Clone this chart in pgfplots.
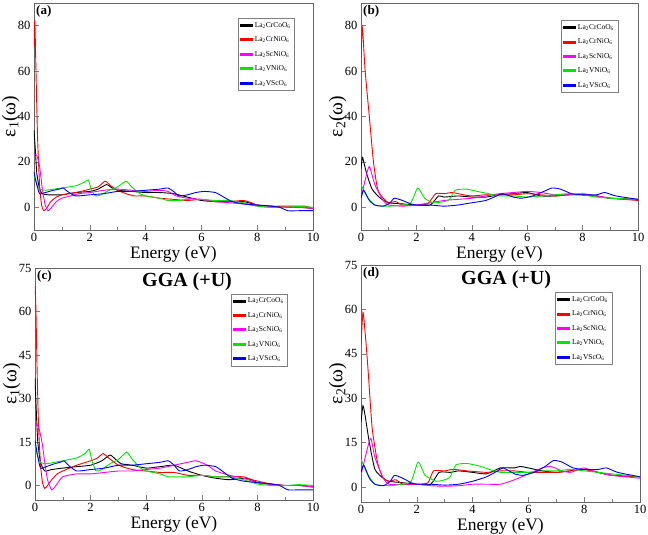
\documentclass[border=0pt]{standalone}
\usepackage{fontspec}
\setmainfont{Liberation Serif}
\usepackage{pgfplots}
\pgfplotsset{compat=1.18}
\definecolor{cgreen}{RGB}{0,230,0}
\definecolor{cmag}{RGB}{255,0,255}
\pgfplotsset{
  panel/.style={
    scale only axis,
    xmin=0, xmax=10,
    xtick={0,2,...,10}, minor xtick={1,3,...,9},
    xtick pos=left, ytick pos=left,
    tick align=inside,
    axis line style={gray!80!black, line width=0.6pt},
    major tick style={gray, line width=0.6pt},
    minor tick style={gray, line width=0.6pt},
    major tick length=5pt, minor tick length=3pt,
    /pgf/number format/assume math mode=true,
    ticklabel style={font=\fontsize{12.5}{12.5}\selectfont},
    xlabel={Energy (eV)},
    xlabel style={font=\fontsize{17.5}{17.5}\selectfont, yshift=2pt},
    ylabel style={font=\fontsize{19.5}{19.5}\selectfont, yshift=-5pt, inner sep=0pt},
    every axis plot/.append style={line width=0.9pt, smooth, tension=0.35},
    legend cell align=left,
    legend style={font=\fontsize{7.5}{8}\selectfont, draw=gray, line width=0.5pt,
      inner sep=2pt, row sep=4pt},
    legend image code/.code={\fill[#1] (0pt,-1pt) rectangle (12pt,1pt);},
  },
}
\newcommand{\leg}{\legend{La\textsubscript{2}CrCoO\textsubscript{6},La\textsubscript{2}CrNiO\textsubscript{6},La\textsubscript{2}ScNiO\textsubscript{6},La\textsubscript{2}VNiO\textsubscript{6},La\textsubscript{2}VScO\textsubscript{6}}}
\begin{document}
\begin{tikzpicture}[x=1pt,y=1pt]
\useasboundingbox (0,0) rectangle (648,535);
% ---------------- (a)
\begin{axis}[panel, at={(34pt,305pt)}, anchor=south west, width=279pt, height=227pt,
  ymin=-10, ymax=90, ytick={0,20,40,60,80},
  ylabel={ε\textsubscript{1}(ω)},
  legend style={at={(0.935,0.934)}, anchor=north east}]
\addplot[black] coordinates {(0,34) (0.05,25) (0.1,15) (0.2,8) (0.3,6) (0.5,5.5) (1,5.5) (1.5,6.5) (2,7) (2.3,8) (2.6,10) (2.8,8.5) (3,7.5) (3.5,7) (4,6.5) (4.5,6.5) (5,6) (5.5,4.5) (6,3) (6.5,2.5) (7,2.5) (7.5,2.5) (7.7,2) (8,1) (8.5,0.5) (9,0) (9.5,0) (10,-0.5)};
\addplot[red] coordinates {(0,70) (0.03,82) (0.08,55) (0.13,30) (0.2,10) (0.27,1) (0.35,-1.5) (0.45,-0.5) (0.6,2.5) (0.8,4.5) (1,5.5) (1.5,6.5) (2,8) (2.3,9) (2.55,11.5) (2.75,9.5) (3,7.5) (3.3,6) (3.6,5) (4,5) (4.5,4) (5,3.5) (5.5,3) (6,3.5) (6.5,2.5) (7,2.5) (7.5,3) (7.8,2) (8,1) (8.5,0.5) (9,0.5) (9.7,0.5) (10,-0.5)};
\addplot[cmag] coordinates {(0,23) (0.1,23) (0.2,18) (0.3,8) (0.4,1) (0.5,-1.5) (0.6,-0.5) (0.8,2.5) (1,4) (1.3,5) (1.6,6) (2,6.5) (2.5,7.5) (3,8) (3.5,7.5) (4,7) (4.5,7.5) (4.8,7) (5.1,5) (5.5,4) (6,3.5) (6.5,2.5) (7,2) (7.5,1.5) (8,0.5) (8.5,0) (9,0) (9.5,0) (10,-0.5)};
\addplot[cgreen] coordinates {(0,14) (0.1,10) (0.2,8) (0.4,7.5) (0.7,8) (1,8.5) (1.5,9.5) (1.8,11) (1.95,12) (2.05,8) (2.2,5) (2.4,5.5) (2.7,7.5) (3,9) (3.3,11.5) (3.5,9) (3.8,6) (4,5) (4.5,4) (4.8,3) (5.2,3) (5.5,3.5) (6,3.5) (6.5,3) (7,3) (7.5,2) (8,0.5) (8.5,0) (9,0) (9.5,0.3) (10,0)};
\addplot[blue] coordinates {(0,15.5) (0.1,10) (0.2,6) (0.4,6.5) (0.7,7.5) (0.9,8) (1.05,8.5) (1.2,7) (1.5,5) (2,5.5) (2.5,6) (3,7) (3.5,7) (4,7.5) (4.5,8) (4.8,8.5) (5.0,7) (5.2,5) (5.5,5.5) (5.8,6.5) (6.1,7) (6.5,6.5) (6.8,4.5) (7.1,2.5) (7.5,1.5) (8,1) (8.5,0.5) (8.8,0) (9.1,-1.5) (9.5,-1.5) (10,-1.5)};
\leg
\node[anchor=north west, font=\bfseries\fontsize{13}{13}\selectfont, inner sep=2pt] at (rel axis cs:0,1) {(a)};
\end{axis}
% ---------------- (b)
\begin{axis}[panel, at={(361pt,305pt)}, anchor=south west, width=277pt, height=227pt,
  ymin=-10, ymax=90, ytick={0,20,40,60,80},
  ylabel={ε\textsubscript{2}(ω)},
  legend style={at={(0.928,0.925)}, anchor=north east}]
\addplot[black] coordinates {(0,17) (0.05,22) (0.1,20) (0.2,15) (0.4,8) (0.7,4) (1,2) (1.5,1.5) (2,1) (2.5,1) (2.8,5) (3,4.5) (3.5,5) (4,4.5) (4.5,4.5) (5,5.5) (5.5,6) (6,6.5) (6.5,5) (7,5) (7.5,5.5) (8,5.5) (8.5,5) (9,4) (10,3.5)};
\addplot[red] coordinates {(0,66) (0.05,79) (0.15,60) (0.3,40) (0.45,20) (0.6,8) (0.8,4) (1,2) (1.25,2.5) (1.5,1) (2,1) (2.4,1.5) (2.7,6) (3,6) (3.3,6.5) (3.7,5.5) (4,5) (4.5,5.5) (5,5.5) (5.5,5.5) (6,6) (6.5,5.5) (7,5) (7.5,5.5) (8,5.5) (8.5,5) (9,4) (10,3)};
\addplot[cmag] coordinates {(0,4) (0.15,12) (0.3,18) (0.5,10) (0.8,3) (1,1) (1.5,0.5) (2,1) (2.5,2) (3,3) (3.5,3.5) (4,4) (4.5,5) (5,6) (5.5,6.5) (6,7) (6.5,6.5) (7,5.5) (7.5,5.5) (8,6) (8.5,5) (9,4) (10,3.5)};
\addplot[cgreen] coordinates {(0,10) (0.2,5) (0.5,1) (1,0.5) (1.5,1) (1.8,2) (2.05,8.5) (2.3,4) (2.6,2) (3,2.5) (3.2,3.5) (3.4,7.5) (3.8,8) (4.2,7) (4.6,6) (5,5) (5.5,5) (6,4.5) (6.5,5) (7,5.5) (7.5,6) (8,5.5) (8.5,4.5) (9,4) (10,3.5)};
\addplot[blue] coordinates {(0,4) (0.1,7.5) (0.3,3) (0.5,1) (0.8,0.5) (1.05,2) (1.2,4) (1.5,3) (1.8,1.5) (2,1) (2.5,1) (3,0.5) (3.5,1) (4,2) (4.5,3) (4.9,5) (5.1,6) (5.5,4.5) (5.8,4) (6.2,5) (6.6,7) (6.9,8.5) (7.2,8) (7.6,6) (8,5.5) (8.5,5.5) (8.8,6.5) (9.2,5) (10,3.5)};
\leg
\node[anchor=north west, font=\bfseries\fontsize{13}{13}\selectfont, inner sep=2pt] at (rel axis cs:0,1) {(b)};
\end{axis}
% ---------------- (c)
\begin{axis}[panel, at={(35pt,35pt)}, anchor=south west, width=278pt, height=232pt,
  ymin=-5, ymax=75, ytick={0,15,30,45,60,75},
  ylabel={ε\textsubscript{1}(ω)},
  legend style={at={(0.91,0.89)}, anchor=north east}]
\addplot[black] coordinates {(0,37) (0.05,25) (0.1,15) (0.2,8) (0.35,5) (0.6,5.5) (1,6) (1.5,6.5) (2,7) (2.4,8.5) (2.7,10.5) (2.9,9) (3.1,7.5) (3.5,7) (4,6) (4.5,6.5) (5,7) (5.5,5) (6,3.5) (6.5,2.5) (7,2) (7.5,2.5) (7.8,2) (8,1) (8.5,0.5) (9,0) (9.5,0) (10,-0.5)};
\addplot[red] coordinates {(0,69) (0.03,62) (0.08,38) (0.13,20) (0.2,7) (0.27,1) (0.35,-1) (0.45,0) (0.6,2) (0.8,4) (1,5) (1.5,7) (2,8.5) (2.25,9.5) (2.45,11) (2.65,9.5) (3,7) (3.5,5.5) (4,5) (4.5,4.5) (5,4.5) (5.5,3.5) (6,3.5) (6.5,3) (7,3) (7.5,3) (7.8,2) (8.5,0.5) (9,0) (9.7,0) (10,-0.5)};
\addplot[cmag] coordinates {(0,21) (0.12,20.5) (0.25,15) (0.35,8) (0.45,2) (0.6,-1.5) (0.75,0) (1,3) (1.5,4) (2,4) (2.5,4.5) (3,5) (3.5,5) (4,5.5) (4.5,6) (5,7) (5.5,8) (5.8,8.5) (6.2,7) (6.5,5) (7,3.5) (7.5,2.5) (8,1) (8.5,0.3) (9,0) (9.5,0) (10,-0.5)};
\addplot[cgreen] coordinates {(0,14) (0.1,10) (0.2,8) (0.4,7.5) (0.7,8) (1,8.5) (1.5,9.5) (1.8,11) (1.95,12.5) (2.05,8.5) (2.2,5) (2.4,5.5) (2.7,7.5) (3,9) (3.3,11.5) (3.5,9) (3.8,6) (4,5) (4.5,4) (4.8,3) (5.2,3) (5.5,3) (6,3.5) (6.5,3) (7,3) (7.5,2) (8,0.5) (8.5,0) (9,0) (9.5,0.3) (10,0)};
\addplot[blue] coordinates {(0,15.5) (0.1,10) (0.2,6) (0.4,6.5) (0.7,7.5) (0.9,8) (1.05,8.5) (1.2,7) (1.5,5) (2,5.5) (2.5,6) (3,7) (3.5,7) (4,7.5) (4.5,8) (4.8,8.5) (5.0,7) (5.2,5) (5.5,5.5) (5.8,6.5) (6.1,7) (6.5,6.5) (6.8,4.5) (7.1,2.5) (7.5,1.5) (8,1) (8.5,0.5) (8.8,0) (9.1,-1.5) (9.5,-1.5) (10,-1.5)};
\leg
\node[anchor=north west, font=\bfseries\fontsize{13}{13}\selectfont, inner sep=2pt] at (rel axis cs:0,1) {(c)};
\node[font=\bfseries\fontsize{20}{20}\selectfont] at (rel axis cs:0.547,0.94) {GGA (+U)};
\end{axis}
% ---------------- (d)
\begin{axis}[panel, at={(361pt,33pt)}, anchor=south west, width=279pt, height=237pt,
  ymin=-5, ymax=75, ytick={0,15,30,45,60,75},
  ylabel={ε\textsubscript{2}(ω)},
  legend style={at={(0.90,0.886)}, anchor=north east}]
\addplot[black] coordinates {(0,22) (0.07,27.5) (0.15,24) (0.3,15) (0.5,6) (0.8,3) (1,2) (1.5,1.5) (2,1) (2.5,1) (2.8,5) (3.2,5) (3.5,5.5) (4,5) (4.5,4.5) (5,6.5) (5.5,6.5) (5.7,7) (6,6.5) (6.5,5.5) (7,5) (7.5,5.5) (8,6) (8.5,5) (9,4) (10,3.5)};
\addplot[red] coordinates {(0,48) (0.07,59) (0.15,52) (0.25,40) (0.4,20) (0.6,8) (0.8,3) (1,2) (1.25,2.5) (1.5,1) (2,1) (2.4,1.5) (2.6,5.5) (3,5.5) (3.3,6) (3.8,5.5) (4.5,5) (5,5.5) (5.5,5.5) (6,5) (6.5,5) (7,5) (7.5,5.5) (8,6) (8.5,5) (9,4) (10,3.5)};
\addplot[cmag] coordinates {(0,4) (0.2,12) (0.35,16.5) (0.5,10) (0.8,3) (1,1) (1.5,1) (2,1) (2.5,0.5) (3,0.3) (3.5,0.5) (4,1) (4.5,1) (5,1) (5.5,2.5) (6,4.5) (6.5,6.5) (6.8,7) (7.2,5.5) (7.5,5) (7.8,6) (8,6.5) (8.5,5) (9,4) (10,3)};
\addplot[cgreen] coordinates {(0,9.5) (0.2,5) (0.5,1) (1,0.5) (1.5,1) (1.8,2) (2.05,8.5) (2.3,4) (2.7,2) (3,2.5) (3.2,3.5) (3.4,7.5) (3.8,8) (4.3,7) (4.6,6) (5,5) (5.5,5) (6,5) (6.5,5.5) (7,5.5) (7.5,6) (8,5.5) (8.5,5) (9,4.5) (10,3.5)};
\addplot[blue] coordinates {(0,5) (0.1,7.5) (0.3,3) (0.5,1) (0.8,0.5) (1.05,2) (1.2,4) (1.5,3) (1.8,1.5) (2,1) (2.5,1) (3,0.7) (3.5,1) (4,2) (4.5,3.5) (4.9,5.5) (5.1,6.5) (5.5,4.5) (5.8,4) (6.2,5) (6.6,7) (6.9,9) (7.2,8.5) (7.6,6.5) (8,6) (8.5,6) (8.8,6.5) (9.2,5) (10,3.5)};
\leg
\node[anchor=north west, font=\bfseries\fontsize{13}{13}\selectfont, inner sep=2pt] at (rel axis cs:0,1) {(d)};
\node[font=\bfseries\fontsize{20}{20}\selectfont] at (rel axis cs:0.52,0.94) {GGA (+U)};
\end{axis}
\end{tikzpicture}
\end{document}
